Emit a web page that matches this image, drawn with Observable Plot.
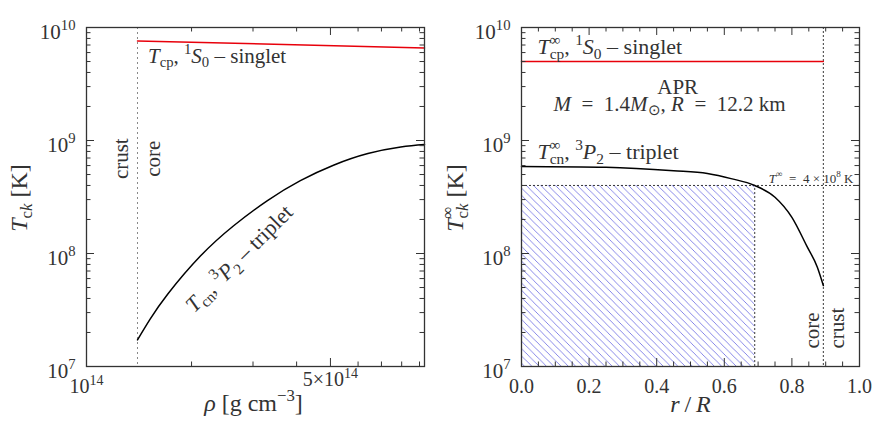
<!DOCTYPE html>
<html><head><meta charset="utf-8">
<script src="https://cdn.jsdelivr.net/npm/d3@7"></script>
<script src="https://cdn.jsdelivr.net/npm/@observablehq/plot@0.6"></script>
<style>
body{margin:0;background:#fff;}
#wrap{display:flex;width:886px;height:430px;}
#wrap svg text, #wrap svg tspan{font-family:"Liberation Serif","Times New Roman",serif !important;}
</style></head><body>
<svg width="0" height="0" style="position:absolute"><defs>
<pattern id="hatch" patternUnits="userSpaceOnUse" width="7.3" height="7.3">
<path d="M-1,-1 L8.3,8.3 M-1,6.3 L1,8.3 M6.3,-1 L8.3,1" stroke="#7b7be6" stroke-width="0.9"/>
</pattern></defs></svg>
<div id="wrap"></div>
<script>
// ---------- Left panel data: T_c vs density ----------
const rhoCore = 1.4e14;
const rhoSinglet = [1.4e14, 9.3e14];
const tcpSinglet = [7.6e9, 6.6e9];
const rhoTriplet = [1.40e14, 1.52e14, 1.71e14, 2.12e14, 2.64e14, 3.30e14, 4.10e14, 5.1e14, 6.4e14, 7.95e14, 9.3e14];
const tcnTriplet = [1.72e7, 2.61e7, 4.38e7, 9.49e7, 1.76e8, 2.94e8, 4.41e8, 6.04e8, 7.66e8, 8.75e8, 9.2e8];

// ---------- Right panel data: redshifted T_c vs r/R ----------
const rCore = 0.893;
const rSinglet = [0, 0.893];
const tcpInf = [5e9, 5e9];
const rTriplet = [0, 0.25, 0.45, 0.55, 0.62, 0.69, 0.75, 0.80, 0.845, 0.875, 0.893];
const tcnInf = [5.9e8, 5.8e8, 5.4e8, 5.1e8, 4.6e8, 4.0e8, 3.15e8, 2.09e8, 1.15e8, 7.6e7, 5.2e7];
const tThreshold = 4e8;
const rThreshold = 0.69;

// ---------- Ticks ----------
const yMajor = [1e7, 1e8, 1e9, 1e10];
const yMinor = [2e7,3e7,4e7,5e7,6e7,7e7,8e7,9e7,2e8,3e8,4e8,5e8,6e8,7e8,8e8,9e8,2e9,3e9,4e9,5e9,6e9,7e9,8e9,9e9];
const yTickLabels = ["10^{7}", "10^{8}", "10^{9}", "10^{10}"];
const rhoMajor = [1e14, 5e14];
const rhoMinor = [2e14, 3e14, 4e14, 6e14, 7e14, 8e14, 9e14];
const rhoTickLabels = ["10^{14}", "5×10^{14}"];
const rMajor = [0, 0.2, 0.4, 0.6, 0.8, 1.0];
const rMinor = [0.05,0.1,0.15,0.25,0.3,0.35,0.45,0.5,0.55,0.65,0.7,0.75,0.85,0.9,0.95];
const rTickLabels = ["0.0", "0.2", "0.4", "0.6", "0.8", "1.0"];

const INK = "#333";
const FONT = "Liberation Serif, Times New Roman, serif";
const H = 430, MT = 27, MB = 64, IH = H - MT - MB;
const EQ = "\u2002=\u2002";

function tickMarks(xMajor, xMinor) {
  const L = 8, S = 4.5;
  return [
    Plot.tickX(xMajor, {x: d => d, insetTop: IH - L, stroke: INK}),
    Plot.tickX(xMajor, {x: d => d, insetBottom: IH - L, stroke: INK}),
    Plot.tickX(xMinor, {x: d => d, insetTop: IH - S, stroke: INK}),
    Plot.tickX(xMinor, {x: d => d, insetBottom: IH - S, stroke: INK})
  ];
}
function yTicks(innerW) {
  const L = 8, S = 4.5;
  return [
    Plot.tickY(yMajor, {y: d => d, insetRight: innerW - L, stroke: INK}),
    Plot.tickY(yMajor, {y: d => d, insetLeft: innerW - L, stroke: INK}),
    Plot.tickY(yMinor, {y: d => d, insetRight: innerW - S, stroke: INK}),
    Plot.tickY(yMinor, {y: d => d, insetLeft: innerW - S, stroke: INK})
  ];
}

// ---------- Left plot ----------
const LW = 443, LML = 86, LMR = 19;
const left = Plot.plot({
  width: LW, height: H, marginLeft: LML, marginRight: LMR, marginTop: MT, marginBottom: MB,
  x: {type: "log", domain: [1e14, 9.3e14], axis: null},
  y: {type: "log", domain: [1e7, 1e10], axis: null},
  style: {fontFamily: FONT, background: "#fff", overflow: "visible"},
  marks: [
    Plot.ruleX([rhoCore], {x: d => d, stroke: "#888", strokeDasharray: "2,3", strokeWidth: 1}),
    Plot.line(rhoSinglet.map((x, i) => ({x, y: tcpSinglet[i]})), {x: "x", y: "y", stroke: "#e8000b", strokeWidth: 1.5}),
    Plot.line(rhoTriplet.map((x, i) => ({x, y: tcnTriplet[i]})), {x: "x", y: "y", stroke: "#000", strokeWidth: 1.5, curve: "natural"}),
    ...tickMarks(rhoMajor, rhoMinor),
    ...yTicks(LW - LML - LMR),
    Plot.frame({stroke: INK, strokeWidth: 1.3}),
    // tick labels
    Plot.text(yMajor, {y: d => d, frameAnchor: "left", lineAnchor: "middle", text: (d, i) => yTickLabels[i], textAnchor: "end", dx: -11, dy: 4.5, fontSize: 21, fill: INK}),
    Plot.text([rhoMajor[0]], {x: d => d, frameAnchor: "bottom", lineAnchor: "middle", textAnchor: "middle", text: () => rhoTickLabels[0], dy: 20, fontSize: 20, fill: INK}),
    Plot.text([rhoMajor[1]], {x: d => d, frameAnchor: "bottom", lineAnchor: "middle", textAnchor: "middle", text: () => rhoTickLabels[1], dy: 13, fontSize: 20, fill: INK}),
    // axis titles
    Plot.text(["*T*_{c*k*} [K]"], {frameAnchor: "left", lineAnchor: "middle", textAnchor: "middle", dx: -67, dy: 1, rotate: -90, fontSize: 24, fill: INK}),
    Plot.text(["*ρ* [g cm^{−3}]"], {frameAnchor: "bottom", lineAnchor: "middle", textAnchor: "middle", dx: -2, dy: 37, fontSize: 24, fill: INK}),
    // annotations
    Plot.text([{x: 1.50e14, y: 5.6e9, t: "*T*_{cp}, ^{1}*S*_{0} – singlet"}], {x: "x", y: "y", text: "t", textAnchor: "start", fontSize: 21, fill: INK}),
    Plot.text([{x: 2.74e14, y: 9.0e7, t: "*T*_{cn}, ^{3}*P*_{2} – triplet"}], {x: "x", y: "y", text: "t", rotate: -45, fontSize: 22, fill: INK}),
    Plot.text([{x: 1.26e14, y: 6.9e8, t: "crust"}, {x: 1.55e14, y: 6.9e8, t: "core"}], {x: "x", y: "y", text: "t", rotate: -90, fontSize: 21, fill: INK})
  ]
});

// ---------- Right plot ----------
const RW = 443, RML = 78, RMR = 27;
const right = Plot.plot({
  width: RW, height: H, marginLeft: RML, marginRight: RMR, marginTop: MT, marginBottom: MB,
  x: {type: "linear", domain: [0, 1], axis: null},
  y: {type: "log", domain: [1e7, 1e10], axis: null},
  style: {fontFamily: FONT, background: "#fff", overflow: "visible"},
  marks: [
    Plot.rect([{x1: 0, x2: rThreshold, y1: 1e7, y2: tThreshold}], {x1: "x1", x2: "x2", y1: "y1", y2: "y2", fill: "url(#hatch)"}),
    Plot.ruleY([tThreshold], {y: d => d, x1: 0, x2: 1, stroke: "#222", strokeDasharray: "2,2", strokeWidth: 0.9}),
    Plot.ruleX([rThreshold], {x: d => d, y1: 1e7, y2: tThreshold, stroke: "#222", strokeDasharray: "2,2", strokeWidth: 0.9}),
    Plot.ruleX([rCore], {x: d => d, stroke: "#222", strokeDasharray: "2,2", strokeWidth: 0.9}),
    Plot.line(rSinglet.map((x, i) => ({x, y: tcpInf[i]})), {x: "x", y: "y", stroke: "#e8000b", strokeWidth: 1.5}),
    Plot.line(rTriplet.map((x, i) => ({x, y: tcnInf[i]})), {x: "x", y: "y", stroke: "#000", strokeWidth: 1.5, curve: "monotone-x"}),
    ...tickMarks(rMajor, rMinor),
    ...yTicks(RW - RML - RMR),
    Plot.frame({stroke: INK, strokeWidth: 1.3}),
    Plot.text(yMajor, {y: d => d, frameAnchor: "left", lineAnchor: "middle", text: (d, i) => yTickLabels[i], textAnchor: "end", dx: -11, dy: 4.5, fontSize: 21, fill: INK}),
    Plot.text(rMajor, {x: d => d, frameAnchor: "bottom", lineAnchor: "middle", textAnchor: "middle", text: (d, i) => rTickLabels[i], dy: 20, fontSize: 20, fill: INK}),
    Plot.text(["*T*^{∞}_{c*k*} [K]"], {frameAnchor: "left", lineAnchor: "middle", textAnchor: "middle", dx: -66, dy: 1, rotate: -90, fontSize: 24, fill: INK}),
    Plot.text(["*r*\u2009/\u2009*R*"], {frameAnchor: "bottom", lineAnchor: "middle", textAnchor: "middle", dy: 38, fontSize: 24, fill: INK}),
    Plot.text([{x: 0.047, y: 6.75e9, t: "*T*^{∞}_{cp}, ^{1}*S*_{0} – singlet"}, {x: 0.047, y: 7.94e8, t: "*T*^{∞}_{cn}, ^{3}*P*_{2} – triplet"}], {x: "x", y: "y", text: "t", textAnchor: "start", fontSize: 22, fill: INK}),
    Plot.text([{x: 0.462, y: 2.98e9, t: "APR"}, {x: 0.438, y: 2.11e9, t: "*M*" + EQ + "1.4*M*_{⊙}, *R*" + EQ + "12.2 km"}], {x: "x", y: "y", text: "t", fontSize: 21, fill: INK}),
    Plot.text([{x: 0.982, y: 4.6e8, t: "*T*^{∞}" + EQ + "4 × 10^{8} K"}], {x: "x", y: "y", text: "t", textAnchor: "end", fontSize: 13, fill: INK}),
    Plot.text([{x: 0.861, y: 1.44e7, t: "core"}, {x: 0.935, y: 1.44e7, t: "crust"}], {x: "x", y: "y", text: "t", rotate: -90, textAnchor: "start", fontSize: 21, fill: INK})
  ]
});

const wrap = document.getElementById("wrap");
wrap.appendChild(left);
wrap.appendChild(right);

// ---------- rich text: *italic*, _{sub}, ^{sup} ----------
function parse(s) {
  const out = []; let italic = false; const stack = [0]; let buf = "";
  const push = () => { if (buf) { out.push({t: buf, it: italic, lv: stack[stack.length - 1]}); buf = ""; } };
  for (let i = 0; i < s.length; i++) {
    const c = s[i];
    if (c === "*") { push(); italic = !italic; continue; }
    if ((c === "_" || c === "^") && s[i + 1] === "{") { push(); stack.push(c === "_" ? -1 : 1); i++; continue; }
    if (c === "}" && stack.length > 1) { push(); stack.pop(); continue; }
    buf += c;
  }
  push();
  return out;
}
function richify(svg) {
  const NS = "http://www.w3.org/2000/svg";
  svg.querySelectorAll("text").forEach(t => {
    const s = t.textContent;
    if (!/[*]|[_^]\{/.test(s)) return;
    const fs = parseFloat(getComputedStyle(t).fontSize);
    const segs = parse(s);
    t.textContent = "";
    let cur = 0;
    const tsps = segs.map(seg => {
      const ts = document.createElementNS(NS, "tspan");
      const off = seg.lv === 1 ? -0.42 * fs : seg.lv === -1 ? 0.22 * fs : 0;
      ts.setAttribute("dy", (off - cur).toFixed(2));
      cur = off;
      if (seg.lv !== 0) ts.setAttribute("font-size", (fs * 0.7).toFixed(2));
      if (seg.it) ts.setAttribute("font-style", "italic");
      ts.textContent = seg.t;
      t.appendChild(ts);
      ts._lv = seg.lv;
      return ts;
    });
    // stack a subscript group directly after a superscript group
    const groups = [];
    tsps.forEach(ts => {
      const g = groups[groups.length - 1];
      if (g && g.lv === ts._lv) g.items.push(ts); else groups.push({lv: ts._lv, items: [ts]});
    });
    for (let gi = 1; gi < groups.length; gi++) {
      const a = groups[gi - 1], b = groups[gi];
      if (a.lv === 1 && b.lv === -1) {
        const wa = a.items.reduce((s, x) => s + x.getComputedTextLength(), 0);
        const wb = b.items.reduce((s, x) => s + x.getComputedTextLength(), 0);
        b.items[0].setAttribute("dx", (-wa).toFixed(2));
        if (wa > wb && groups[gi + 1]) groups[gi + 1].items[0].setAttribute("dx", (wa - wb).toFixed(2));
      }
    }
  });
}
richify(left);
richify(right);
</script>
</body></html>
